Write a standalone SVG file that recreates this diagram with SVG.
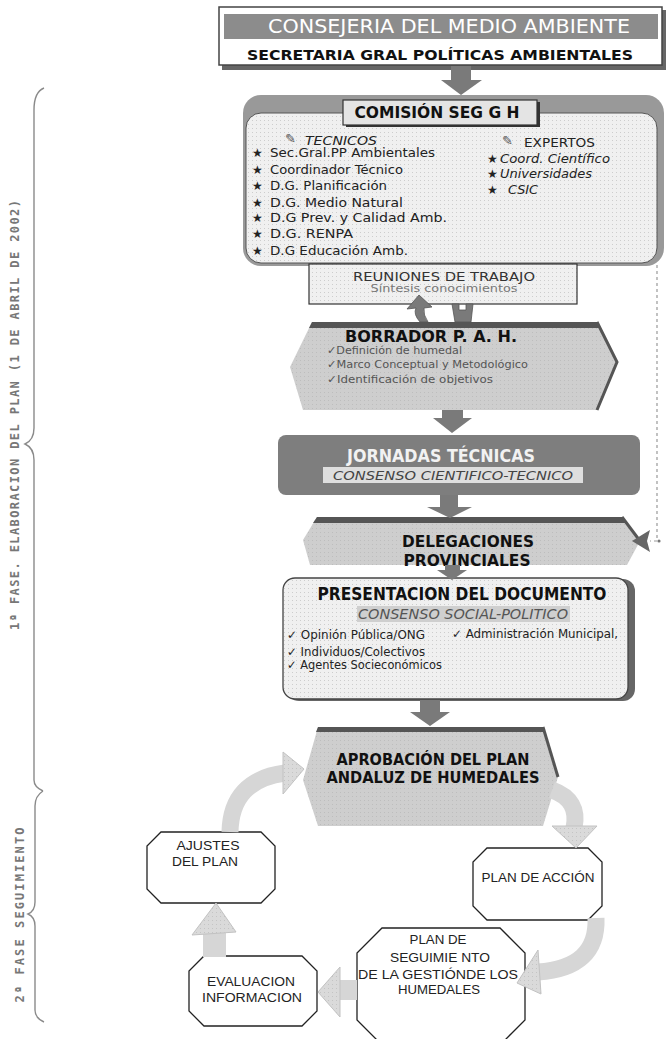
<svg xmlns="http://www.w3.org/2000/svg" width="666" height="1039" viewBox="0 0 666 1039">
<defs>
<pattern id="dots" width="4" height="4" patternUnits="userSpaceOnUse"><rect width="4" height="4" fill="#f0f0f0"/><rect width="1" height="1" fill="#cdcdcd"/></pattern>
<pattern id="dotsg" width="4" height="4" patternUnits="userSpaceOnUse"><rect width="4" height="4" fill="#cecece"/><rect width="1" height="1" fill="#bdbdbd"/></pattern>
<pattern id="dotsc" width="4" height="4" patternUnits="userSpaceOnUse"><rect width="4" height="4" fill="#dadada"/><rect width="1" height="1" fill="#c4c4c4"/></pattern>
<style>
text{font-family:"DejaVu Sans","Liberation Sans",sans-serif;}
.h{font-weight:bold;fill:#111;}
.li{font-size:12px;fill:#222;}
.it{font-style:italic;}
.oct{fill:#fff;stroke:#222;stroke-width:1.3;}
.octt{font-family:"Liberation Sans",sans-serif;font-size:12.5px;fill:#222;text-anchor:middle;}
.arr{fill:#7a7a7a;}
.cyc{fill:url(#dotsc);stroke:#c2c2c2;stroke-width:1;}
.band{fill:none;stroke:#d6d6d6;stroke-width:17;}
.brace{fill:none;stroke:#8a8a8a;stroke-width:1.4;}
.fase{font-family:"DejaVu Sans Mono","Liberation Mono",monospace;font-weight:bold;font-size:12px;fill:#777;text-anchor:middle;}
.band-top{fill:#555;}
</style>
</defs>

<g id="fase1">
<path class="brace" d="M44 88 Q34 92 34 110 L34 428 Q34 440 25 444 Q34 448 34 460 L34 780 Q34 787 43 791"/>
<text class="fase" transform="translate(19,415) rotate(-90)" textLength="430" lengthAdjust="spacing">1ª FASE. ELABORACION DEL PLAN (1 DE ABRIL DE 2002)</text>
</g>
<g id="fase2">
<path class="brace" d="M43 791 Q35 796 35 806 L35 902 Q35 911 28 914 Q35 917 35 926 L35 1010 Q35 1018 44 1022"/>
<text class="fase" transform="translate(24,915) rotate(-90)" textLength="175" lengthAdjust="spacing">2ª FASE SEGUIMIENTO</text>
</g>

<g id="consejeria">
<rect x="222" y="10" width="444" height="60" fill="#666"/>
<rect x="219" y="7" width="443" height="58" fill="#fff" stroke="#444" stroke-width="1.5"/>
<rect x="224" y="14" width="434" height="25" fill="#8c8c8c"/>
<text x="449" y="33" font-size="19" fill="#fff" text-anchor="middle" textLength="362" lengthAdjust="spacingAndGlyphs">CONSEJERIA DEL MEDIO AMBIENTE</text>
<text class="h" x="440" y="60" font-size="14" text-anchor="middle" textLength="386" lengthAdjust="spacingAndGlyphs">SECRETARIA GRAL POLÍTICAS AMBIENTALES</text>
</g>

<g id="comision">
<rect x="243" y="95" width="421" height="171" rx="18" fill="#999"/>
<rect x="246" y="113" width="411" height="150" rx="15" fill="url(#dots)" stroke="#555" stroke-width="1"/>
<rect x="346" y="102" width="194" height="25" fill="#333"/>
<rect x="343" y="100" width="194" height="25" fill="#e4e4e4" stroke="#333" stroke-width="1.2"/>
<text class="h" x="437" y="118" font-size="15" text-anchor="middle" textLength="165" lengthAdjust="spacingAndGlyphs">COMISIÓN SEG G H</text>
<text x="285" y="143" font-size="13" fill="#555">✎</text>
<text class="it" x="305" y="145" font-size="13" fill="#222" textLength="72" lengthAdjust="spacingAndGlyphs">TECNICOS</text>
<text x="502" y="145" font-size="13" fill="#555">✎</text>
<text x="524" y="147" font-size="13" fill="#222" textLength="71" lengthAdjust="spacingAndGlyphs">EXPERTOS</text>
<g class="li">
<text x="252" y="157">★</text><text x="270" y="157" textLength="165" lengthAdjust="spacingAndGlyphs">Sec.Gral.PP Ambientales</text>
<text x="252" y="174">★</text><text x="270" y="174" textLength="133" lengthAdjust="spacingAndGlyphs">Coordinador Técnico</text>
<text x="252" y="190">★</text><text x="270" y="190" textLength="117" lengthAdjust="spacingAndGlyphs">D.G. Planificación</text>
<text x="252" y="207">★</text><text x="270" y="207" textLength="133" lengthAdjust="spacingAndGlyphs">D.G. Medio Natural</text>
<text x="252" y="222">★</text><text x="270" y="222" textLength="177" lengthAdjust="spacingAndGlyphs">D.G Prev. y Calidad Amb.</text>
<text x="252" y="238">★</text><text x="270" y="238" textLength="83" lengthAdjust="spacingAndGlyphs">D.G. RENPA</text>
<text x="252" y="255">★</text><text x="270" y="255" textLength="138" lengthAdjust="spacingAndGlyphs">D.G Educación Amb.</text>
<text x="487" y="163">★</text><text class="it" x="500" y="163" textLength="110" lengthAdjust="spacingAndGlyphs">Coord. Científico</text>
<text x="487" y="178">★</text><text class="it" x="500" y="178" textLength="92" lengthAdjust="spacingAndGlyphs">Universidades</text>
<text x="487" y="194">★</text><text class="it" x="508" y="194" textLength="30" lengthAdjust="spacingAndGlyphs">CSIC</text>
</g>
</g>

<g id="reuniones">
<rect x="309" y="264" width="268" height="40" fill="url(#dots)" stroke="#333" stroke-width="1.2"/>
<text x="444" y="281" font-size="13" fill="#333" text-anchor="middle" textLength="182" lengthAdjust="spacingAndGlyphs">REUNIONES DE TRABAJO</text>
<text x="444" y="292" font-size="11" fill="#777" text-anchor="middle" textLength="147" lengthAdjust="spacingAndGlyphs">Síntesis conocimientos</text>
</g>

<g id="borrador">
<polygon points="312,322 597,322 617,362 597,410 303,410 290,367" fill="url(#dotsg)"/>
<polygon class="band-top" points="312,322 597,322 600,328 309,328"/>
<polyline points="597,322 617,362 597,410" fill="none" stroke="#555" stroke-width="3"/>
<text class="h" x="345" y="342" font-size="16" fill="#222" textLength="172" lengthAdjust="spacingAndGlyphs">BORRADOR P. A. H.</text>
<g font-size="11" fill="#555">
<text x="327" y="354" textLength="135" lengthAdjust="spacingAndGlyphs">✓Definición de humedal</text>
<text x="327" y="368" textLength="201" lengthAdjust="spacingAndGlyphs">✓Marco Conceptual y Metodológico</text>
<text x="327" y="383" textLength="166" lengthAdjust="spacingAndGlyphs">✓Identificación de objetivos</text>
</g>
</g>

<g id="jornadas">
<rect x="278" y="435" width="362" height="60" rx="8" fill="#7e7e7e"/>
<text x="441" y="462" font-size="17" font-weight="bold" fill="#f2f2f2" text-anchor="middle" textLength="188" lengthAdjust="spacingAndGlyphs">JORNADAS TÉCNICAS</text>
<rect x="323" y="467" width="260" height="16" fill="#dedede"/>
<text class="it" x="453" y="480" font-size="13" fill="#444" text-anchor="middle" textLength="240" lengthAdjust="spacingAndGlyphs">CONSENSO CIENTIFICO-TECNICO</text>
</g>

<g id="delegaciones">
<polygon points="317,517 622,517 640,541 627,565 310,565 303,540" fill="url(#dotsg)"/>
<polygon class="band-top" points="317,517 622,517 626,523 313,523"/>
<polyline points="622,517 640,541" fill="none" stroke="#555" stroke-width="3"/>
<text class="h" x="468" y="547" font-size="16" fill="#222" text-anchor="middle" textLength="132" lengthAdjust="spacingAndGlyphs">DELEGACIONES</text>
<text class="h" x="467" y="566" font-size="16" fill="#222" text-anchor="middle" textLength="127" lengthAdjust="spacingAndGlyphs">PROVINCIALES</text>
</g>

<g id="presentacion">
<rect x="287" y="579" width="348" height="122" rx="12" fill="#666"/>
<rect x="283" y="578" width="345" height="121" rx="12" fill="url(#dots)" stroke="#444" stroke-width="1.3"/>
<text class="h" x="462" y="600" font-size="17" fill="#222" text-anchor="middle" textLength="289" lengthAdjust="spacingAndGlyphs">PRESENTACION DEL DOCUMENTO</text>
<rect x="357" y="606" width="213" height="16" fill="#cfcfcf"/>
<text class="it" x="463" y="619" font-size="14" fill="#555" text-anchor="middle" textLength="210" lengthAdjust="spacingAndGlyphs">CONSENSO SOCIAL-POLITICO</text>
<g class="li">
<text x="287" y="639" textLength="138" lengthAdjust="spacingAndGlyphs">✓ Opinión Pública/ONG</text>
<text x="452" y="638" textLength="166" lengthAdjust="spacingAndGlyphs">✓ Administración Municipal,</text>
<text x="287" y="656" textLength="138" lengthAdjust="spacingAndGlyphs">✓ Individuos/Colectivos</text>
<text x="287" y="669" textLength="155" lengthAdjust="spacingAndGlyphs">✓ Agentes Socieconómicos</text>
</g>
</g>

<g id="aprobacion">
<polygon points="318,727 543,727 558,777 543,826 318,826 303,780" fill="url(#dotsg)"/>
<polygon class="band-top" points="318,727 543,727 545,732 316,732"/>
<polyline points="543,727 558,777" fill="none" stroke="#555" stroke-width="3"/>
<text class="h" x="433" y="765" font-size="15" fill="#222" text-anchor="middle" textLength="193" lengthAdjust="spacingAndGlyphs">APROBACIÓN DEL PLAN</text>
<text class="h" x="433" y="783" font-size="15" fill="#222" text-anchor="middle" textLength="213" lengthAdjust="spacingAndGlyphs">ANDALUZ DE HUMEDALES</text>
</g>

<g id="ajustes">
<polygon class="oct" points="161,832 261,832 275,846 275,889 261,903 161,903 147,889 147,846"/>
<text class="octt" x="208" y="850" textLength="63" lengthAdjust="spacingAndGlyphs">AJUSTES</text>
<text class="octt" x="205" y="866" textLength="66" lengthAdjust="spacingAndGlyphs">DEL PLAN</text>
</g>

<g id="plan-accion">
<polygon class="oct" points="487,848 588,848 602,862 602,906 588,920 487,920 473,906 473,862"/>
<text class="octt" x="538" y="882" textLength="113" lengthAdjust="spacingAndGlyphs">PLAN DE ACCIÓN</text>
</g>

<g id="plan-seguimiento">
<polygon class="oct" points="382,928 500,928 525,953 525,1020 500,1045 382,1045 357,1020 357,953"/>
<text class="octt" x="438" y="944" textLength="57" lengthAdjust="spacingAndGlyphs">PLAN DE</text>
<text class="octt" x="440" y="962" textLength="100" lengthAdjust="spacingAndGlyphs">SEGUIMIE NTO</text>
<text class="octt" x="438" y="979" textLength="160" lengthAdjust="spacingAndGlyphs">DE LA GESTIÓNDE LOS</text>
<text class="octt" x="439" y="994" textLength="82" lengthAdjust="spacingAndGlyphs">HUMEDALES</text>
</g>

<g id="evaluacion">
<polygon class="oct" points="204,956 302,956 317,971 317,1011 302,1026 204,1026 189,1011 189,971"/>
<text class="octt" x="251" y="986" textLength="88" lengthAdjust="spacingAndGlyphs">EVALUACION</text>
<text class="octt" x="252" y="1002" textLength="100" lengthAdjust="spacingAndGlyphs">INFORMACION</text>
</g>

<g id="connectors">
<polygon class="arr" points="451,66 471,66 471,80 482,80 461,95 441,80 451,80"/>
<path d="M420,322 Q413,314 416,308 L407,309 L419,295 L432,307 L424,308 Q423,315 428,322 Z" fill="#7a7a7a" stroke="#555" stroke-width="0.8"/>
<path d="M452,304 L459,304 L459,310 L466,310 L466,304 L473,304 L471,322 L455,322 Z" fill="#7a7a7a" stroke="#555" stroke-width="0.8"/>
<polygon class="arr" points="442,410 463,410 463,418 472,418 452,433 433,418 442,418"/>
<polygon class="arr" points="440,495 458,495 458,507 472,507 450,518 427,507 440,507"/>
<polygon class="arr" points="445,565 460,565 460,570 467,570 452,580 437,570 445,570"/>
<polygon class="arr" points="420,700 440,700 440,712 450,712 430,726 410,712 420,712"/>
<path d="M657,265 L657,541 L650,541" fill="none" stroke="#999" stroke-width="1.2" stroke-dasharray="3,3"/>
<polygon points="632,541 650,530 647,541 650,552" fill="#666"/>
<circle cx="659" cy="541" r="1.6" fill="#777"/>
<path class="band" d="M552,790 Q580,800 574,828"/>
<polygon class="cyc" points="552,826 597,826 576,848"/>
<path class="band" d="M596,918 Q598,968 538,972"/>
<polygon class="cyc" points="538,950 541,994 517,983"/>
<rect x="340" y="980" width="17" height="20" fill="#d6d6d6"/>
<polygon class="cyc" points="340,967 340,1017 318,992"/>
<rect x="203" y="933" width="23" height="24" fill="#d6d6d6"/>
<polygon class="cyc" points="192,935 236,932 216,903"/>
<path class="band" d="M230,832 Q231,780 285,773"/>
<polygon class="cyc" points="283,752 283,794 304,769"/>
</g>
</svg>
